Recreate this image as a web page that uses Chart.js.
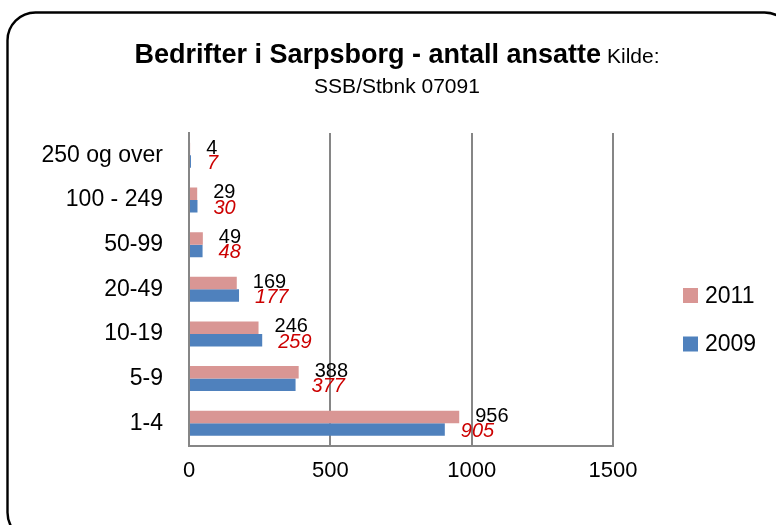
<!DOCTYPE html>
<html><head><meta charset="utf-8">
<script src="https://cdn.jsdelivr.net/npm/chart.js@4.4.1/dist/chart.umd.min.js"></script>
<style>html,body{margin:0;padding:0;background:#fff;overflow:hidden}
#wrap{position:relative;width:776px;height:525px}
</style></head><body><div id="wrap"><canvas id="c" width="776" height="525"></canvas></div>
<script>
const categories = ['250 og over', '100 - 249', '50-99', '20-49', '10-19', '5-9', '1-4'];
const values2011 = [4, 29, 49, 169, 246, 388, 956];
const values2009 = [7, 30, 48, 177, 259, 377, 905];
const seriesNames = ['2011', '2009'];
const xTicks = [0, 500, 1000, 1500];
const titleBold = 'Bedrifter i Sarpsborg - antall ansatte';
const titleRest = 'Kilde:';
const subtitle = 'SSB/Stbnk 07091';

const FONT = '"Liberation Sans", Arial, sans-serif';
const colors = ['#D99694', '#4F81BD'];
const labelStyles = [
  {color: '#000000', style: 'normal', dy: -1},
  {color: '#CC0000', style: 'italic', dy: 2}
];

const decor = {
  id: 'decor',
  beforeDraw(chart) {
    const ctx = chart.ctx;
    ctx.save();
    ctx.fillStyle = '#fff';
    ctx.fillRect(0, 0, chart.width, chart.height);
    ctx.restore();
  },
  afterDatasetsDraw(chart) {
    const ctx = chart.ctx;
    ctx.save();
    chart.data.datasets.forEach((ds, i) => {
      const meta = chart.getDatasetMeta(i);
      const st = labelStyles[i];
      ctx.font = st.style + ' 20px ' + FONT;
      ctx.fillStyle = st.color;
      ctx.textAlign = 'left';
      ctx.textBaseline = 'middle';
      meta.data.forEach((el, j) => {
        ctx.fillText(String(ds.data[j]), el.x + 16, el.y + st.dy);
      });
    });
    ctx.restore();
  },
  afterDraw(chart) {
    const ctx = chart.ctx;
    ctx.save();
    ctx.strokeStyle = '#000';
    ctx.lineWidth = 2.4;
    ctx.beginPath();
    ctx.roundRect(7.5, 12.5, 785, 528, 28);
    ctx.stroke();
    const cx = 397;
    ctx.fillStyle = '#000';
    ctx.textBaseline = 'alphabetic';
    ctx.textAlign = 'left';
    ctx.font = 'bold 27px ' + FONT;
    const wA = ctx.measureText(titleBold).width;
    ctx.font = '21px ' + FONT;
    const wS = ctx.measureText(' ').width;
    const wB = ctx.measureText(titleRest).width;
    const x0 = cx - (wA + wS + wB) / 2;
    ctx.font = 'bold 27px ' + FONT;
    ctx.fillText(titleBold, x0, 63);
    ctx.font = '21px ' + FONT;
    ctx.fillText(titleRest, x0 + wA + wS, 63);
    ctx.textAlign = 'center';
    ctx.fillText(subtitle, cx, 93);
    ctx.textAlign = 'left';
    ctx.textBaseline = 'middle';
    ctx.font = '23px ' + FONT;
    chart.data.datasets.forEach((ds, i) => {
      const y = 295.5 + i * 48.5;
      ctx.fillStyle = ds.backgroundColor;
      ctx.fillRect(683, y - 7.5, 15, 15);
      ctx.fillStyle = '#000';
      ctx.fillText(ds.label, 705, y + 1);
    });
    ctx.restore();
  }
};

new Chart(document.getElementById('c'), {
  type: 'bar',
  data: {
    labels: categories,
    datasets: [
      {label: seriesNames[0], data: values2011, backgroundColor: colors[0]},
      {label: seriesNames[1], data: values2009, backgroundColor: colors[1]}
    ]
  },
  options: {
    indexAxis: 'y',
    responsive: false,
    animation: false,
    devicePixelRatio: 1,
    categoryPercentage: 0.56,
    barPercentage: 1,
    layout: {padding: {top: 133, right: 163, bottom: 29, left: 0}},
    plugins: {legend: {display: false}, title: {display: false}, tooltip: {enabled: false}},
    scales: {
      x: {
        type: 'linear', min: 0, max: 1500,
        afterBuildTicks: (s) => { s.ticks = xTicks.map(v => ({value: v})); },
        ticks: {color: '#000', font: {family: FONT, size: 22}, padding: 12, callback: (v) => String(v)},
        grid: {color: '#868686', lineWidth: 2, drawTicks: false},
        border: {color: '#868686', width: 2}
      },
      y: {
        type: 'category',
        afterFit: (s) => { s.width = 189; },
        ticks: {color: '#000', font: {family: FONT, size: 23}, padding: 26},
        grid: {display: false, drawTicks: false},
        border: {color: '#868686', width: 2}
      }
    }
  },
  plugins: [decor]
});
</script></body></html>
